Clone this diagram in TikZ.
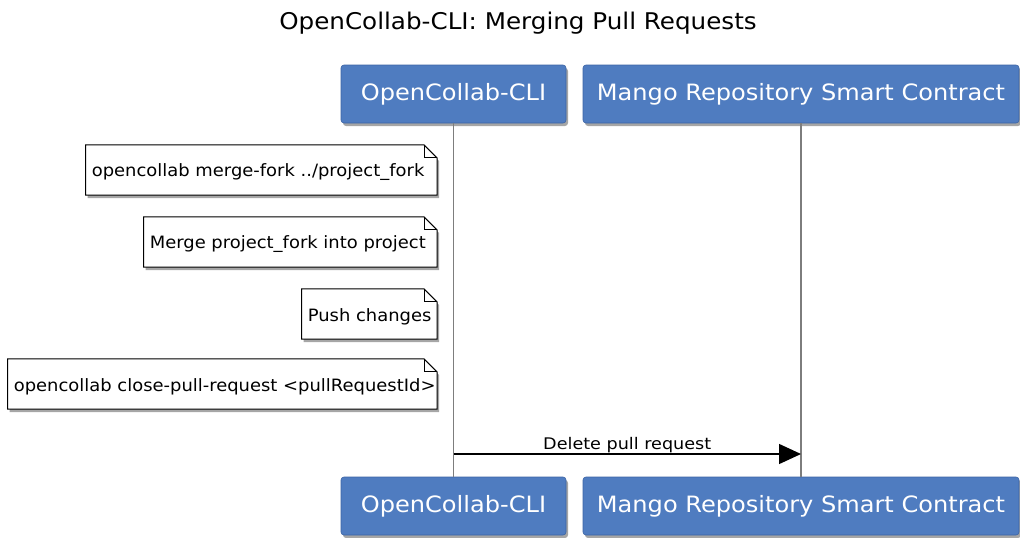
\documentclass[tikz,border=0pt]{standalone}
\usepackage{fontspec}
\setmainfont{DejaVu Sans}
\newfontfamily\widefont[FakeStretch=1.07]{DejaVu Sans}
\newfontfamily\notefont[FakeStretch=1.055]{DejaVu Sans}
\newfontfamily\msgfont[FakeStretch=1.1]{DejaVu Sans}
\usetikzlibrary{shadows,arrows.meta}
\definecolor{partblue}{RGB}{79,124,192}
\definecolor{partborder}{RGB}{60,100,165}
\definecolor{lifegray}{RGB}{125,125,125}
\tikzset{
  part/.style={rounded corners=3pt, fill=partblue, draw=partborder, line width=0.6pt,
    text=white, font=\widefont\fontsize{22.5}{26}\selectfont, minimum height=58pt,
    inner sep=0pt,
    drop shadow={shadow xshift=2pt, shadow yshift=-3pt, opacity=0.35, fill=black}},
  notebox/.style={anchor=east, minimum height=50pt, inner sep=4pt},
  notefold/.style={draw=black, line width=1pt, fill=white,
    drop shadow={shadow xshift=2pt, shadow yshift=-3pt, opacity=0.35, fill=black}},
  notetext/.style={anchor=west, font=\notefont\fontsize{17}{20}\selectfont, inner sep=0pt},
  lifeline/.style={draw=lifegray, line width=1.6pt},
  msg/.style={draw=black, line width=1.4pt, -{Triangle[length=22pt,width=20pt]}}
}
\newcommand{\foldnote}[1]{%
  \path[notefold] (#1.south west) -- (#1.north west) -- ([xshift=-13pt]#1.north east)
    -- ([yshift=-13pt]#1.north east) -- (#1.south east) -- cycle;
  \draw[line width=1pt] ([xshift=-13pt]#1.north east) -- ([xshift=-13pt,yshift=-13pt]#1.north east)
    -- ([yshift=-13pt]#1.north east);
}
\begin{document}
\begin{tikzpicture}[x=1pt,y=-1pt]
\useasboundingbox (0,0) rectangle (1020,538);
\node[font=\widefont\fontsize{23}{27}\selectfont] (title) at (518,23) {OpenCollab-CLI: Merging Pull Requests};
% participants
\node[part, minimum width=225pt] (cliT) at (453.5,94) {OpenCollab-CLI};
\node[part, minimum width=436pt] (mrT) at (801,94) {Mango Repository Smart Contract};
\node[part, minimum width=225pt] (cliB) at (453.5,506) {OpenCollab-CLI};
\node[part, minimum width=436pt] (mrB) at (801,506) {Mango Repository Smart Contract};
% lifelines
\path[lifeline] (cliT.south) -- (cliB.north);
\path[lifeline] (mrT.south) -- (mrB.north);
% notes
\node[notebox, minimum width=351pt] (n1) at (437,170) {};
\foldnote{n1}
\node[notetext] (t1) at ([xshift=6pt,yshift=-2.5pt]n1.west) {opencollab merge-fork ../project\_fork};
\node[notebox, minimum width=293pt] (n2) at (437,242) {};
\foldnote{n2}
\node[notetext] (t2) at ([xshift=6pt,yshift=-2.5pt]n2.west) {Merge project\_fork into project};
\node[notebox, minimum width=135pt] (n3) at (437,314) {};
\foldnote{n3}
\node[notetext] (t3) at ([xshift=6pt,yshift=-2.5pt]n3.west) {Push changes};
\node[notebox, minimum width=429pt] (n4) at (437,384) {};
\foldnote{n4}
\node[notetext] (t4) at ([xshift=6pt,yshift=-2.5pt]n4.west) {opencollab close-pull-request <pullRequestId>};
% message
\coordinate (a1) at (453.5,454);
\coordinate (a2) at (801,454);
\draw[msg] (a1) -- node[above, font=\msgfont\fontsize{16}{19}\selectfont, inner sep=0.5pt] (lbl) {Delete pull request} (a2);
\end{tikzpicture}
\end{document}
